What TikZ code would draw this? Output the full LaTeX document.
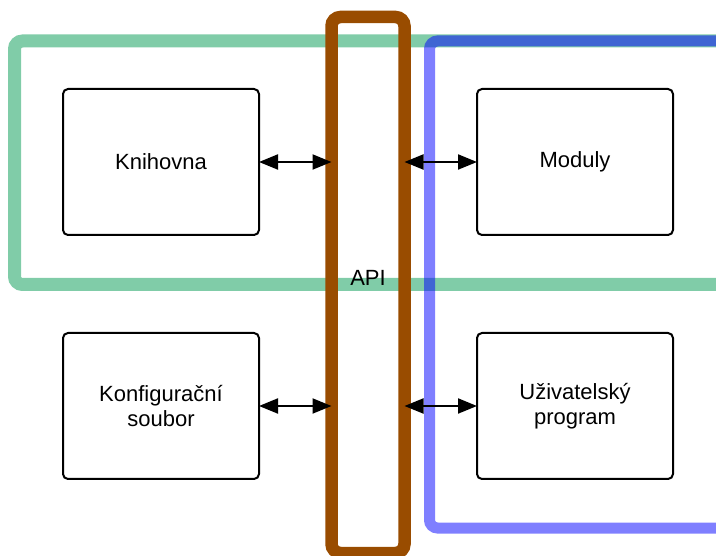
\documentclass[tikz,border=0pt]{standalone}
\usepackage{fontspec}
\setmainfont{Liberation Sans}
\usetikzlibrary{arrows.meta}
\definecolor{grp1}{RGB}{128,204,168}
\definecolor{apibrown}{RGB}{153,76,0}
\tikzset{
  comp/.style={draw=black, line width=2pt, rounded corners=5pt, minimum width=196pt, minimum height=146pt, outer sep=0pt, align=center, font=\fontsize{22}{25.5}\selectfont},
  apibox/.style={draw=apibrown, line width=12.5pt, rounded corners=9pt, minimum width=73pt, minimum height=536pt, outer sep=0pt, inner sep=0pt},
  lbl/.style={font=\fontsize{22}{25.5}\selectfont},
  arr/.style={line width=2pt, {Triangle[length=19pt,width=15pt]}-{Triangle[length=19pt,width=15pt]}}
}
\begin{document}
\begin{tikzpicture}[x=1pt,y=-1pt]
\useasboundingbox (0,0) rectangle (716,556);
\clip (0,0) rectangle (716,556);
% groups
\draw[grp1, line width=13pt, rounded corners=8pt] (14.5,41) rectangle (780,284.5);
\draw[blue, draw opacity=0.5, line width=11pt, rounded corners=8pt] (429.5,41) rectangle (780,528);
% API
\node[apibox] (api) at (368,285) {};
\node[lbl] (apitext) at (368,278) {API};
% components
\node[comp] (knih) at (161,162) {Knihovna};
\node[comp] (konf) at (161,406) {Konfigurační\\soubor};
\node[comp] (mod) at (575,162) {Moduly};
\node[comp] (uziv) at (575,406) {Uživatelský\\program};
% connectors
\draw[arr] (knih.east) -- (knih.east -| api.west);
\draw[arr] (konf.east) -- (konf.east -| api.west);
\draw[arr] (mod.west -| api.east) -- (mod.west);
\draw[arr] (uziv.west -| api.east) -- (uziv.west);
\end{tikzpicture}
\end{document}
